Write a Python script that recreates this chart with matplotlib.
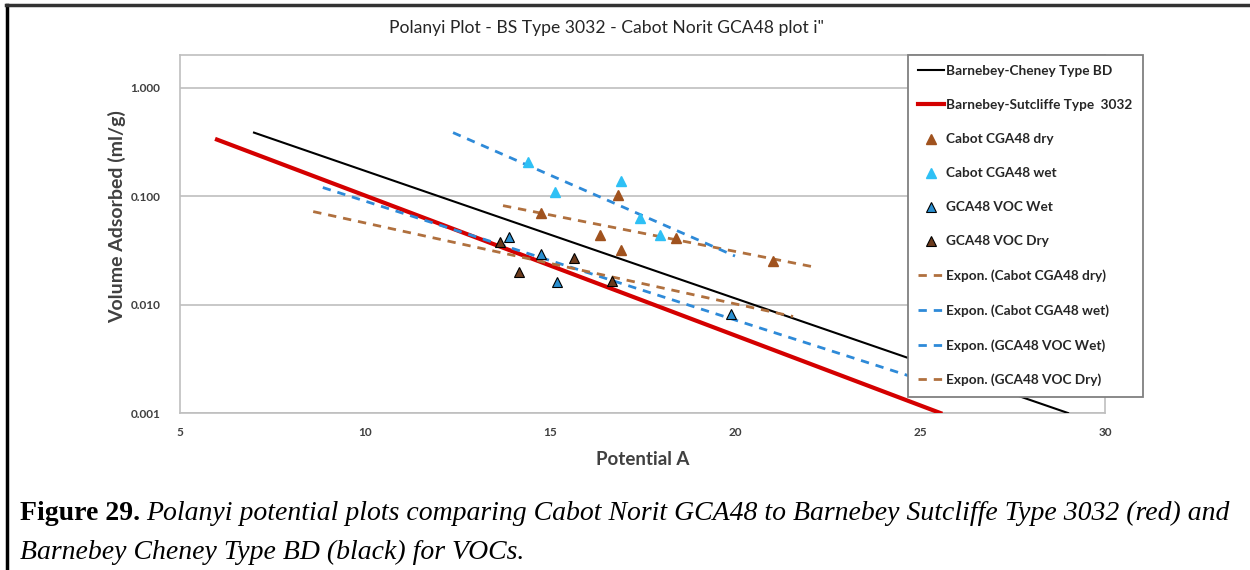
import matplotlib
matplotlib.use("Agg")
import matplotlib.pyplot as plt
from matplotlib.lines import Line2D
from matplotlib.ticker import FixedLocator, FixedFormatter

plt.rcParams["font.family"] = ["Lato", "DejaVu Sans"]

# ── Data ──
bc_x = [7.0, 29.0]               # Barnebey-Cheney Type BD
bc_y = [0.385, 0.001]
bs_x = [6.0, 25.55]              # Barnebey-Sutcliffe Type 3032
bs_y = [0.332, 0.001]

cabot_dry_x = [14.76, 16.84, 16.35, 16.92, 18.40, 21.03]
cabot_dry_y = [0.0705, 0.103, 0.044, 0.032, 0.041, 0.0254]
cabot_wet_x = [14.40, 15.14, 16.92, 17.43, 17.97]
cabot_wet_y = [0.208, 0.110, 0.139, 0.063, 0.044]
voc_wet_x = [13.89, 14.76, 15.20, 19.90]
voc_wet_y = [0.042, 0.0295, 0.0163, 0.0081]
voc_dry_x = [13.65, 14.16, 15.65, 16.68]
voc_dry_y = [0.038, 0.020, 0.027, 0.0166]

# exponential trendline end points
tr_cabot_dry_x = [13.73, 22.08]
tr_cabot_dry_y = [0.0817, 0.0224]
tr_cabot_wet_x = [12.38, 20.0]
tr_cabot_wet_y = [0.385, 0.028]
tr_voc_wet_x = [8.86, 25.5]
tr_voc_wet_y = [0.12, 0.0018]
tr_voc_dry_x = [8.6, 21.57]
tr_voc_dry_y = [0.072, 0.00776]

x_ticks = [5, 10, 15, 20, 25, 30]
y_ticks = [0.001, 0.01, 0.1, 1.0]
y_tick_labels = ["0.001", "0.010", "0.100", "1.000"]

C_DRY = "#A0521E"
C_WET = "#2EC0F5"
C_VOC_WET = "#2A8FD0"
C_VOC_DRY = "#6B3A1C"
C_TR_BLUE = "#2E8AD8"
C_TR_BROWN = "#B0703E"
GRAY = "#BFBFBF"
TXT = "#404040"

fig = plt.figure(figsize=(12.5, 5.7), dpi=100)
ax = fig.add_axes([0.144, 0.2754, 0.74, 0.6281])

ax.set_yscale("log")
ax.set_xlim(5, 30)
ax.set_ylim(0.001, 2.0)

ax.plot(bc_x, bc_y, color="black", lw=1.5, label="Barnebey-Cheney Type BD", zorder=3)
ax.plot(bs_x, bs_y, color="#D40000", lw=3, label="Barnebey-Sutcliffe Type  3032", zorder=3)

mk = dict(marker="^", ms=7, ls="none", zorder=5)
ax.plot(cabot_dry_x, cabot_dry_y, color=C_DRY, mec=C_DRY, label="Cabot CGA48 dry", **mk)
ax.plot(cabot_wet_x, cabot_wet_y, color=C_WET, mec=C_WET, label="Cabot CGA48 wet", **mk)
ax.plot(voc_wet_x, voc_wet_y, color=C_VOC_WET, mec="black", mew=0.8, label="GCA48 VOC Wet", **mk)
ax.plot(voc_dry_x, voc_dry_y, color=C_VOC_DRY, mec="black", mew=0.8, label="GCA48 VOC Dry", **mk)

dash = dict(lw=2, ls=(0, (3, 2.5)), zorder=4)
ax.plot(tr_cabot_dry_x, tr_cabot_dry_y, color=C_TR_BROWN, label="Expon. (Cabot CGA48 dry)", **dash)
ax.plot(tr_cabot_wet_x, tr_cabot_wet_y, color=C_TR_BLUE, label="Expon. (Cabot CGA48 wet)", **dash)
ax.plot(tr_voc_wet_x, tr_voc_wet_y, color=C_TR_BLUE, label="Expon. (GCA48 VOC Wet)", **dash)
ax.plot(tr_voc_dry_x, tr_voc_dry_y, color=C_TR_BROWN, label="Expon. (GCA48 VOC Dry)", **dash)

# axes styling
for s in ax.spines.values():
    s.set_color(GRAY)
    s.set_linewidth(1.2)
ax.yaxis.set_major_locator(FixedLocator(y_ticks))
ax.yaxis.set_major_formatter(FixedFormatter(y_tick_labels))
ax.yaxis.set_minor_locator(FixedLocator([]))
ax.set_xticks(x_ticks)
ax.tick_params(length=0, labelsize=8.5, labelcolor=TXT, pad=14)
for lab in ax.get_xticklabels() + ax.get_yticklabels():
    lab.set_fontweight("bold")
ax.tick_params(axis="x", pad=10)
ax.grid(True, axis="y", color=GRAY, lw=1.2)
ax.set_axisbelow(True)

ax.set_xlabel("Potential A", fontsize=13.5, fontweight="bold", color=TXT)
ax.xaxis.set_label_coords(0.5, -0.105)
ax.set_ylabel("Volume Adsorbed (ml/g)", fontsize=14, fontweight="bold", color=TXT)
ax.yaxis.set_label_coords(-0.058, 0.55)

fig.text(0.485, 0.95, 'Polanyi Plot - BS Type 3032 - Cabot Norit GCA48 plot i"',
         ha="center", va="center", fontsize=12.6, color="#262626")

leg = fig.legend(loc="upper left", bbox_to_anchor=(908 / 1250, 1 - 55 / 570),
                 prop={"weight": "bold", "size": 9.8},
                 labelspacing=1.62, handlelength=1.9, handletextpad=0.15,
                 borderpad=0.75, borderaxespad=0, fancybox=False, framealpha=1,
                 edgecolor="#808080")
leg.get_frame().set_linewidth(1.3)
leg.set_zorder(10)
for t in leg.get_texts():
    t.set_color("#262626")

# figure border (left and top)
fig.add_artist(Line2D([0.0055, 0.0055], [0, 0.991], color="black", lw=2.5,
                      transform=fig.transFigure))
fig.add_artist(Line2D([0.0045, 1.0], [0.991, 0.991], color="#333333", lw=2.5,
                      transform=fig.transFigure))

# caption
r = fig.canvas.get_renderer()
t1 = fig.text(0.016, 0.088, "Figure 29.", fontsize=20, fontweight="bold",
              family="Liberation Serif", va="baseline")
bb = t1.get_window_extent(renderer=r)
fig.text(bb.x1 / 1250 + 0.005, 0.088,
         "Polanyi potential plots comparing Cabot Norit GCA48 to Barnebey Sutcliffe Type 3032 (red) and",
         fontsize=20, style="italic", family="Liberation Serif", va="baseline")
fig.text(0.016, 0.02, "Barnebey Cheney Type BD (black) for VOCs.",
         fontsize=20, style="italic", family="Liberation Serif", va="baseline")

fig.savefig("out.png", dpi=100)
